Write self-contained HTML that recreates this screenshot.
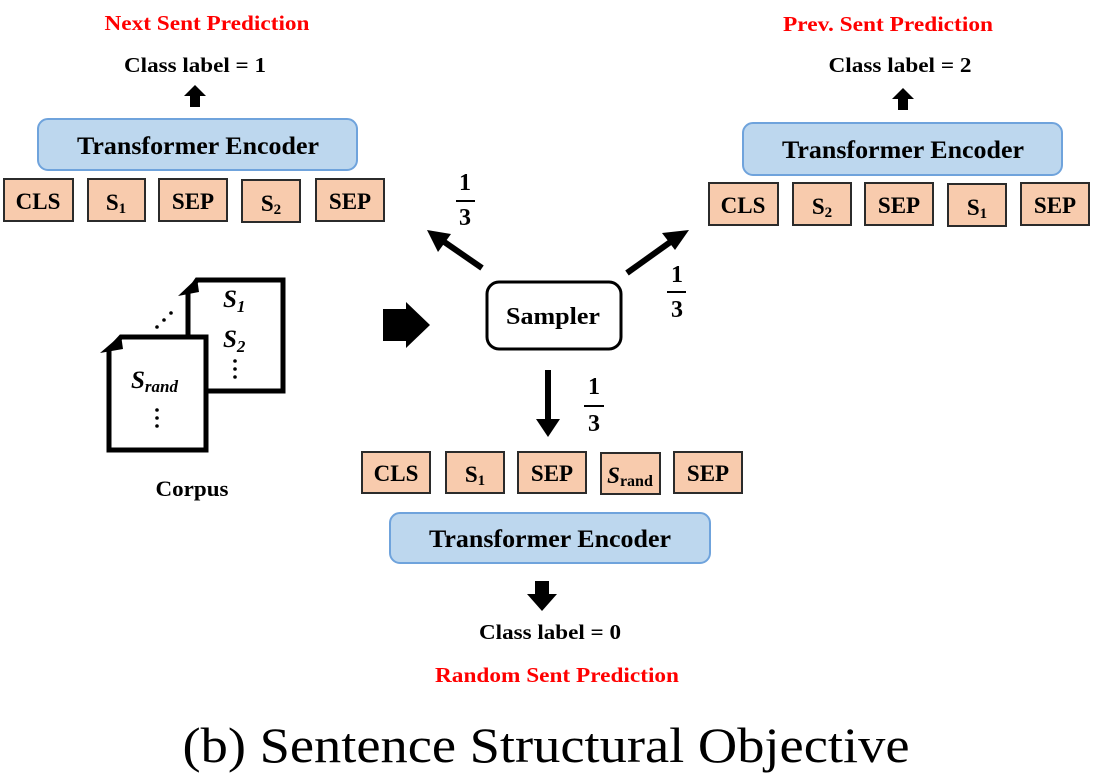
<!DOCTYPE html>
<html><head><meta charset="utf-8"><style>
html,body{margin:0;padding:0;background:#fff;}
svg{display:block;}
text{font-family:"Liberation Serif",serif;font-weight:bold;}
</style></head><body>
<svg width="1093" height="780" viewBox="0 0 1093 780" xmlns="http://www.w3.org/2000/svg">
<!-- Titles -->
<text x="207" y="30" font-size="21" fill="#ff0000" text-anchor="middle" textLength="205" lengthAdjust="spacingAndGlyphs">Next Sent Prediction</text>
<text x="195" y="72" font-size="21" text-anchor="middle" textLength="142" lengthAdjust="spacingAndGlyphs">Class label = 1</text>
<polygon points="184,96 195,85 206,96 200,96 200,107 190,107 190,96" fill="#000"/>
<rect x="38" y="119" width="319" height="51" rx="10" fill="#bdd7ee" stroke="#6fa3dc" stroke-width="2"/>
<text x="198" y="154" font-size="25" text-anchor="middle" textLength="242" lengthAdjust="spacingAndGlyphs">Transformer Encoder</text>
<g stroke="#2b2b2b" stroke-width="2" fill="#f8cbad">
<rect x="4" y="179" width="69" height="42"/><rect x="88" y="179" width="57" height="42"/><rect x="159" y="179" width="68" height="42"/><rect x="242" y="180" width="58" height="42"/><rect x="316" y="179" width="68" height="42"/>
</g>
<g font-size="23" text-anchor="middle">
<text x="38" y="209">CLS</text><text x="116" y="210">S<tspan font-size="15" dy="3">1</tspan></text><text x="193" y="209">SEP</text><text x="271" y="211">S<tspan font-size="15" dy="3">2</tspan></text><text x="350" y="209">SEP</text>
</g>

<text x="888" y="31" font-size="21" fill="#ff0000" text-anchor="middle" textLength="210" lengthAdjust="spacingAndGlyphs">Prev. Sent Prediction</text>
<text x="900" y="72" font-size="21" text-anchor="middle" textLength="143" lengthAdjust="spacingAndGlyphs">Class label = 2</text>
<polygon points="892,99 903,88 914,99 908,99 908,110 898,110 898,99" fill="#000"/>
<rect x="743" y="123" width="319" height="52" rx="10" fill="#bdd7ee" stroke="#6fa3dc" stroke-width="2"/>
<text x="903" y="158" font-size="25" text-anchor="middle" textLength="242" lengthAdjust="spacingAndGlyphs">Transformer Encoder</text>
<g stroke="#2b2b2b" stroke-width="2" fill="#f8cbad">
<rect x="709" y="183" width="69" height="42"/><rect x="793" y="183" width="58" height="42"/><rect x="865" y="183" width="68" height="42"/><rect x="948" y="184" width="58" height="42"/><rect x="1021" y="183" width="68" height="42"/>
</g>
<g font-size="23" text-anchor="middle">
<text x="743" y="213">CLS</text><text x="822" y="214">S<tspan font-size="15" dy="3">2</tspan></text><text x="899" y="213">SEP</text><text x="977" y="215">S<tspan font-size="15" dy="3">1</tspan></text><text x="1055" y="213">SEP</text>
</g>

<!-- Corpus docs -->
<g fill="#fff" stroke="#000" stroke-width="5">
<path d="M197,280 L283,280 L283,391 L188,391 L188,293 Z"/>
<path d="M121,337 L206,337 L206,450 L109,450 L109,350 Z"/>
</g>
<polygon points="178,296 197,278 199,292" fill="#000"/>
<polygon points="100,353 121,335 123,349" fill="#000"/>
<text x="223" y="307" font-size="25" font-style="italic">S<tspan font-size="17" dy="5">1</tspan></text>
<text x="223" y="347" font-size="25" font-style="italic">S<tspan font-size="17" dy="5">2</tspan></text>
<g fill="#000"><circle cx="235" cy="361" r="1.8"/><circle cx="235" cy="369" r="1.8"/><circle cx="235" cy="377" r="1.8"/>
<circle cx="157" cy="410" r="1.8"/><circle cx="157" cy="418" r="1.8"/><circle cx="157" cy="426" r="1.8"/>
<circle cx="157" cy="327" r="1.8"/><circle cx="164" cy="320" r="1.8"/><circle cx="171" cy="313" r="1.8"/></g>
<text x="131" y="388" font-size="25" font-style="italic">S<tspan font-size="17" dy="4">rand</tspan></text>
<text x="192" y="496" font-size="22" text-anchor="middle" textLength="73" lengthAdjust="spacingAndGlyphs">Corpus</text>

<!-- big arrow -->
<polygon points="383,309 406,309 406,302 430,325 406,348 406,341 383,341" fill="#000"/>

<!-- Sampler -->
<rect x="487" y="282" width="134" height="67" rx="12" fill="#fff" stroke="#000" stroke-width="3"/>
<text x="553" y="324" font-size="24" text-anchor="middle" textLength="94" lengthAdjust="spacingAndGlyphs">Sampler</text>

<!-- arrows -->
<g stroke="#000" stroke-width="6">
<line x1="482" y1="268" x2="440" y2="239"/>
<line x1="627" y1="273" x2="676" y2="238"/>
<line x1="548" y1="370" x2="548" y2="420"/>
</g>
<polygon points="427,230 451,234 438,252" fill="#000"/>
<polygon points="689,230 675,250 662,233" fill="#000"/>
<polygon points="536,419 560,419 548,437" fill="#000"/>
<g font-size="24" text-anchor="middle">
<text x="465" y="190">1</text><line x1="456" y1="201" x2="475" y2="201" stroke="#000" stroke-width="2"/><text x="465" y="225">3</text>
<text x="677" y="282">1</text><line x1="667" y1="292" x2="686" y2="292" stroke="#000" stroke-width="2"/><text x="677" y="317">3</text>
<text x="594" y="394">1</text><line x1="584" y1="406" x2="604" y2="406" stroke="#000" stroke-width="2"/><text x="594" y="431">3</text>
</g>

<!-- bottom -->
<g stroke="#2b2b2b" stroke-width="2" fill="#f8cbad">
<rect x="362" y="452" width="68" height="41"/><rect x="446" y="452" width="58" height="41"/><rect x="518" y="452" width="68" height="41"/><rect x="601" y="453" width="59" height="41"/><rect x="674" y="452" width="68" height="41"/>
</g>
<g font-size="23" text-anchor="middle">
<text x="396" y="481">CLS</text><text x="475" y="482">S<tspan font-size="15" dy="3">1</tspan></text><text x="552" y="481">SEP</text><text x="630" y="483"><tspan font-style="italic">S</tspan><tspan font-size="16" dy="3">rand</tspan></text><text x="708" y="481">SEP</text>
</g>
<rect x="390" y="513" width="320" height="50" rx="10" fill="#bdd7ee" stroke="#6fa3dc" stroke-width="2"/>
<text x="550" y="547" font-size="25" text-anchor="middle" textLength="242" lengthAdjust="spacingAndGlyphs">Transformer Encoder</text>
<polygon points="535,581 549,581 549,594 557,594 542,611 527,594 535,594" fill="#000"/>
<text x="550" y="639" font-size="21" text-anchor="middle" textLength="142" lengthAdjust="spacingAndGlyphs">Class label = 0</text>
<text x="557" y="682" font-size="21" fill="#ff0000" text-anchor="middle" textLength="244" lengthAdjust="spacingAndGlyphs">Random Sent Prediction</text>

<text x="546" y="762" font-size="50" style="font-weight:normal" text-anchor="middle" textLength="727" lengthAdjust="spacingAndGlyphs">(b) Sentence Structural Objective</text>
</svg>
</body></html>
